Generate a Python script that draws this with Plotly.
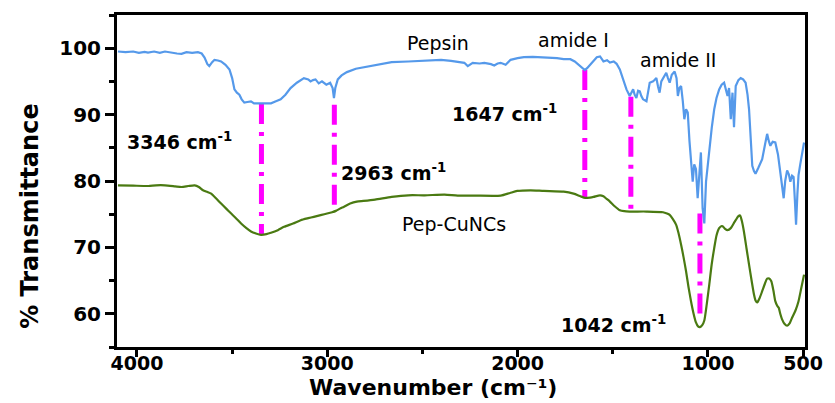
import plotly.graph_objects as go

# FTIR spectra: wavenumber (cm^-1) and % transmittance
pepsin_wn = [4100, 4060, 4020, 3990, 3960, 3942, 3910, 3880, 3853, 3820, 3790, 3766, 3740, 3710,
             3680, 3660, 3645, 3630, 3620, 3605, 3593, 3575, 3558, 3535, 3514, 3500, 3488, 3475,
             3462, 3450, 3436, 3420, 3401, 3385, 3366, 3346, 3320, 3296, 3270, 3245, 3220, 3193,
             3160, 3123, 3100, 3088, 3075, 3062, 3045, 3028, 3005, 2985, 2972, 2965, 2958, 2945,
             2925, 2897, 2850, 2810, 2749, 2662, 2575, 2488, 2440, 2402, 2350, 2315, 2280, 2262,
             2250, 2236, 2200, 2175, 2140, 2123, 2105, 2089, 2063, 2050, 2037, 2000, 1967, 1920,
             1880, 1830, 1793, 1758, 1723, 1700, 1680, 1660, 1647, 1635, 1619, 1600, 1584, 1567,
             1549, 1530, 1515, 1495, 1480, 1463, 1445, 1428, 1411, 1400, 1393, 1385, 1376, 1367,
             1358, 1350, 1341, 1323, 1306, 1288, 1271, 1262, 1254, 1245, 1236, 1219, 1210, 1201,
             1190, 1175, 1165, 1158, 1150, 1141, 1132, 1124, 1115, 1106, 1097, 1089, 1080, 1072,
             1063, 1054, 1045, 1037, 1028, 1019, 1010, 1000, 993, 980, 967, 955, 941, 928, 915,
             905, 897, 889, 880, 871, 863, 854, 840, 828, 815, 802, 792, 784, 775, 767, 758, 750,
             735, 715, 700, 689, 680, 672, 660, 646, 632, 620, 610, 602, 594, 584, 575, 567, 558,
             550, 543, 537, 530, 524, 515, 506, 495]
pepsin_t = [99.5, 99.4, 99.5, 99.3, 99.45, 99.35, 99.5, 99.3, 99.5, 99.3, 99.2, 99.15, 99.4, 99.3,
            99.4, 99.2, 98.6, 97.6, 97.3, 97.9, 98.25, 98.15, 98.0, 97.5, 96.8, 95.5, 93.8, 93.3,
            93.0, 92.3, 91.8, 91.9, 92.0, 91.7, 91.7, 91.6, 91.65, 91.7, 92.0, 92.3, 93.0, 94.0,
            94.8, 95.5, 95.3, 95.0, 95.2, 95.3, 94.7, 95.0, 94.5, 94.8, 94.0, 92.5, 94.0, 95.3,
            95.9, 96.4, 96.9, 97.1, 97.5, 97.9, 98.0, 98.1, 98.2, 98.25, 98.1, 98.0, 97.8, 97.3,
            97.6, 97.8, 97.7, 97.8, 97.6, 97.4, 97.7, 97.8, 97.5, 97.9, 98.25, 98.5, 98.65, 98.7,
            98.65, 98.6, 98.5, 98.35, 98.35, 98.0, 97.5, 97.0, 96.7, 97.0, 97.5, 98.2, 98.65, 98.75,
            98.0, 98.2, 97.85, 98.0, 97.65, 96.8, 95.3, 93.8, 92.8, 93.5, 93.8, 93.0, 92.5, 93.6,
            93.5, 92.8, 92.3, 92.0, 94.8, 95.0, 95.5, 94.2, 93.3, 95.0, 95.5, 96.3, 95.5, 94.8,
            96.0, 96.5, 95.5, 92.8, 94.0, 94.3, 92.0, 89.3, 90.8, 90.3, 86.0, 83.3, 79.9, 82.5,
            81.8, 77.4, 82.0, 84.3, 75.9, 73.6, 79.9, 83.0, 84.8, 88.0, 90.8, 92.5, 93.8, 94.5, 94.8,
            93.5, 92.8, 94.0, 89.3, 93.3, 88.1, 94.3, 95.2, 95.5, 95.3, 94.8, 93.0, 90.8, 86.0, 82.3,
            81.5, 81.1, 82.0, 83.3, 85.5, 87.1, 86.0, 85.3, 85.9, 85.8, 84.0, 81.6, 79.0, 77.4, 80.0,
            81.6, 81.0, 79.9, 80.8, 80.6, 77.0, 73.4, 78.0, 80.9, 82.5, 84.3, 85.8]

cunc_wn = [4100, 4020, 3940, 3900, 3853, 3800, 3766, 3730, 3697, 3675, 3653, 3630, 3610, 3585,
           3558, 3530, 3505, 3480, 3453, 3425, 3401, 3375, 3348, 3320, 3296, 3260, 3227, 3180,
           3140, 3100, 3071, 3030, 3001, 2975, 2955, 2930, 2914, 2880, 2845, 2810, 2749, 2662,
           2575, 2488, 2384, 2315, 2227, 2089, 2040, 2002, 1932, 1862, 1758, 1706, 1670, 1645,
           1620, 1601, 1567, 1549, 1532, 1515, 1490, 1463, 1440, 1411, 1323, 1236, 1215, 1201,
           1185, 1167, 1155, 1141, 1128, 1115, 1102, 1089, 1076, 1063, 1052, 1042, 1030, 1019,
           1006, 993, 980, 967, 955, 941, 930, 923, 910, 897, 880, 865, 854, 840, 831, 822, 811,
           797, 784, 770, 758, 750, 741, 728, 715, 700, 689, 678, 667, 656, 646, 636, 628, 620,
           611, 598, 584, 570, 558, 540, 524, 510, 495]
cunc_t = [79.35, 79.3, 79.25, 79.35, 79.35, 79.2, 79.1, 79.25, 79.35, 79.1, 78.6, 78.35, 78.1, 77.4,
          76.6, 75.8, 75.1, 74.4, 73.6, 72.9, 72.4, 72.1, 71.9, 72.0, 72.2, 72.6, 73.1, 73.6,
          74.1, 74.4, 74.6, 74.9, 75.1, 75.3, 75.5, 75.9, 76.1, 76.6, 76.9, 77.0, 77.2, 77.6,
          77.85, 77.85, 77.95, 77.8, 77.8, 77.8, 78.2, 78.5, 78.6, 78.5, 78.4, 78.1, 77.7, 77.45,
          77.5, 77.6, 77.85, 77.7, 77.3, 76.9, 76.2, 75.6, 75.45, 75.4, 75.4, 75.3, 75.1, 74.9,
          74.3, 73.4, 72.2, 70.4, 68.5, 66.4, 64.0, 61.9, 60.1, 58.7, 58.1, 58.0, 58.3, 59.0,
          61.5, 64.4, 67.5, 69.9, 71.8, 72.9, 73.2, 73.2, 72.8, 72.6, 72.9, 73.6, 74.1, 74.7, 74.8,
          74.0, 72.4, 69.8, 67.4, 64.9, 62.9, 62.0, 61.7, 62.4, 63.4, 64.6, 65.3, 65.3, 64.9, 63.5,
          61.9, 61.2, 60.9, 60.0, 59.2, 58.5, 58.2, 58.6, 59.4, 60.5, 61.9, 63.8, 65.9]

# Marked bands: wavenumber and the transmittance span of each marker line
band_wn = [3346, 2963, 1647, 1405, 1042]
band_top = [91.6, 91.5, 96.7, 92.7, 75.1]
band_bottom = [71.9, 75.6, 77.5, 75.5, 59.3]

# Band labels (text, wavenumber, transmittance)
band_labels = ["3346 cm<sup>-1</sup>", "2963 cm<sup>-1</sup>", "1647 cm<sup>-1</sup>",
               "1042 cm<sup>-1</sup>"]
band_label_wn = [4062, 2941, 2356, 1782]
band_label_t = [86.0, 81.3, 90.3, 58.5]

name_labels = ["Pepsin", "amide I", "amide II", "Pep-CuNCs"]
name_label_wn = [2419, 1709, 1156, 2335]
name_label_t = [100.75, 101.2, 98.2, 73.6]

x_ticks = [4000, 3000, 2000, 1000, 500]
y_ticks = [60, 70, 80, 90, 100]

BLUE = "#5599EA"
GREEN = "#4A7A12"
MAGENTA = "#FF00FF"

fig = go.Figure()

for wn, top, bot in zip(band_wn, band_top, band_bottom):
    fig.add_trace(go.Scatter(x=[wn, wn], y=[top, bot], mode="lines",
                             line=dict(color=MAGENTA, width=5, dash="20px,8px,4px,8px"),
                             showlegend=False, hoverinfo="skip"))

fig.add_trace(go.Scatter(x=pepsin_wn, y=pepsin_t, mode="lines", name="Pepsin",
                         line=dict(color=BLUE, width=2.2), showlegend=False))
fig.add_trace(go.Scatter(x=cunc_wn, y=cunc_t, mode="lines", name="Pep-CuNCs",
                         line=dict(color=GREEN, width=2.2, shape="spline", smoothing=0.6),
                         showlegend=False))

bold_font = dict(family="DejaVu Sans", size=19, color="black", weight="bold")
plain_font = dict(family="DejaVu Sans", size=19, color="black")

for txt, wn, t in zip(band_labels, band_label_wn, band_label_t):
    fig.add_annotation(x=wn, y=t, text=txt, showarrow=False, xanchor="left",
                       yanchor="middle", font=bold_font)
for txt, wn, t in zip(name_labels, name_label_wn, name_label_t):
    fig.add_annotation(x=wn, y=t, text=txt, showarrow=False, xanchor="center",
                       yanchor="middle", font=plain_font)

fig.add_annotation(xref="paper", yref="paper", x=0.46, y=-0.167,
                   text="Wavenumber (cm\u207b\u00b9)", showarrow=False,
                   xanchor="center", yanchor="bottom",
                   font=dict(family="DejaVu Sans", size=22, color="black", weight="bold"))
fig.add_annotation(xref="paper", yref="paper", x=-0.1255, y=0.394,
                   text="% Transmittance", showarrow=False, textangle=-90,
                   xanchor="center", yanchor="middle",
                   font=dict(family="DejaVu Sans", size=24, color="black", weight="bold"))

fig.update_xaxes(range=[4105, 490], tickvals=x_ticks, ticktext=[str(v) for v in x_ticks],
                 showline=True, linewidth=3, linecolor="black", mirror=True,
                 ticks="outside", ticklen=7, tickwidth=2.5, tickcolor="black",
                 ticklabelstandoff=-10,
                 minor=dict(tickvals=[3500, 2500, 1500], ticks="outside", ticklen=4,
                            tickwidth=2.5, tickcolor="black"),
                 showgrid=False, zeroline=False,
                 tickfont=dict(family="DejaVu Sans", size=19, color="black", weight="bold"))
fig.update_yaxes(range=[55, 105], tickvals=y_ticks,
                 showline=True, linewidth=3, linecolor="black", mirror=True,
                 ticks="outside", ticklen=9, tickwidth=2.5, tickcolor="black",
                 minor=dict(dtick=5, ticks="outside", ticklen=5, tickwidth=2.5,
                            tickcolor="black"),
                 showgrid=False, zeroline=False,
                 tickfont=dict(family="DejaVu Sans", size=20, color="black", weight="bold"))

fig.update_layout(width=835, height=403,
                  margin=dict(l=117, r=25, t=12, b=56),
                  plot_bgcolor="white", paper_bgcolor="white")

fig.write_html("out.html")
